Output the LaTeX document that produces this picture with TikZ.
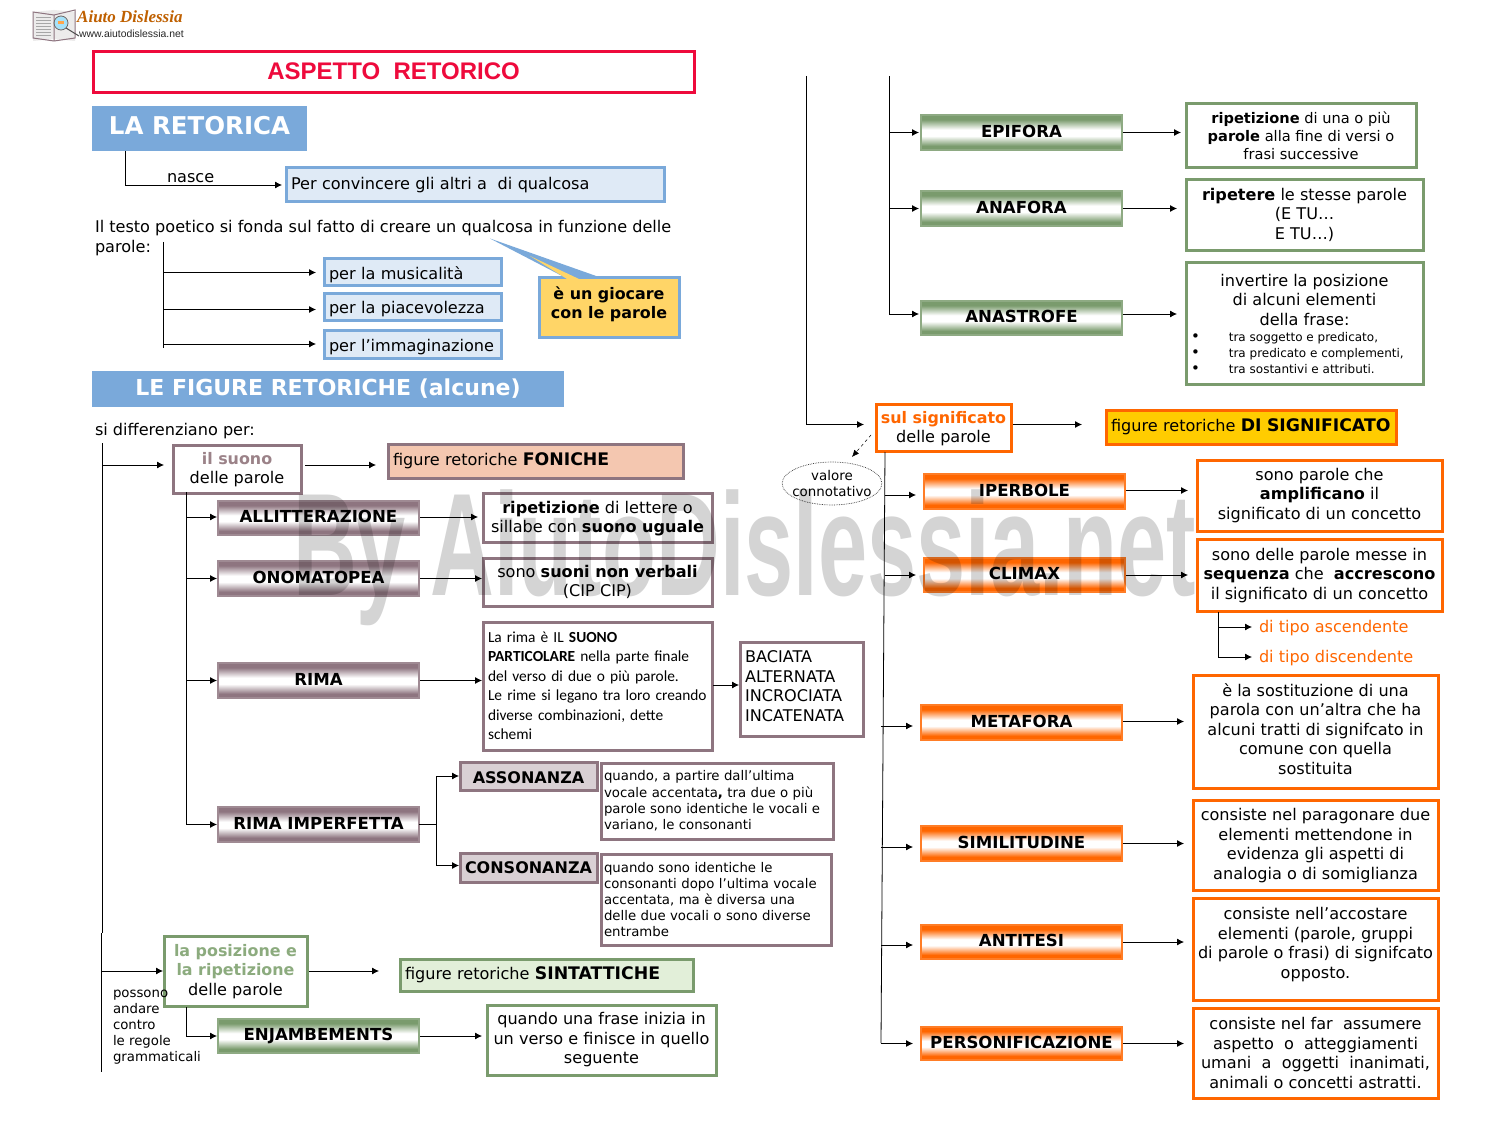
\documentclass[tikz,border=0pt]{standalone}
\usepackage{fontspec}
\setmainfont{DejaVu Sans}
\newfontfamily\arialf{Liberation Sans}
\newfontfamily\calif{Carlito}
\newfontfamily\logof{Liberation Serif}
\usetikzlibrary{arrows.meta,calc,shapes.geometric}
\definecolor{rossot}{HTML}{EE0A3C}
\definecolor{azz}{HTML}{7AA9DA}
\definecolor{azzc}{HTML}{DFEAF6}
\definecolor{giallo}{HTML}{FFD567}
\definecolor{mauve}{HTML}{8E7580}
\definecolor{mauvet}{HTML}{9B8288}
\definecolor{mauvec}{HTML}{D9D0D4}
\definecolor{pesca}{HTML}{F4C7B0}
\definecolor{verde}{HTML}{7A9B6D}
\definecolor{verdet}{HTML}{8CAB7E}
\definecolor{verdec}{HTML}{E2EFD9}
\definecolor{arancio}{HTML}{FF6600}
\definecolor{oro}{HTML}{FFCC00}
\newcommand{\bodyfont}{\fontsize{16.1}{19.5}\selectfont}
\newcommand{\headfont}{\fontsize{15.9}{19.5}\selectfont\bfseries}
\newcommand{\gradfont}{\fontsize{16.6}{19.5}\selectfont\bfseries}
\newcommand{\tbb}[1]{{\fontsize{17.3}{19.5}\selectfont\bfseries #1}}
\newcommand{\rb}[2]{\raisebox{#1}[\height][\depth]{#2}}
\newcommand{\sh}[2]{\rb{#1}{\begin{tabular}{@{}c@{}}#2\end{tabular}}}
\newcommand{\shl}[2]{\rb{#1}{\begin{tabular}{@{}l@{}}#2\end{tabular}}}
\newcommand{\defgrad}[1]{\pgfdeclareverticalshading{grad#1}{100bp}{color(0bp)=(#1); color(25bp)=(#1); color(31bp)=(#1); color(45bp)=(white); color(54bp)=(white); color(68.5bp)=(#1); color(75bp)=(#1); color(100bp)=(#1)}}
\defgrad{mauve}\defgrad{verde}\defgrad{arancio}
\tikzset{
  arr/.style={draw=black,line width=.8pt,-{Latex[length=7pt,width=7pt]}},
  plain/.style={draw=black,line width=.8pt},
  base/.style={inner sep=0pt,outer sep=0pt,font=\bodyfont},
  sbox/.style={draw=#1,line width=3pt,fill=white},
  gbox/.style={draw=#1!85,line width=2pt,shade,shading=grad#1,font=\gradfont},
  lab/.style={inner sep=0pt,outer sep=0pt,anchor=west,font=\bodyfont,align=left},
}
\newcommand{\bxc}[7][]{%
  \pgfmathsetmacro{\cxx}{(#3+#5)/2}\pgfmathsetmacro{\cyy}{(#4+#6)/2}%
  \pgfmathsetmacro{\www}{#5-#3-2}\pgfmathsetmacro{\hhh}{#6-#4-2}%
  \node[base,align=center,minimum width=\www pt,minimum height=\hhh pt,#1] (#2) at (\cxx,\cyy) {#7};}
\newcommand{\bxl}[7][]{%
  \pgfmathsetmacro{\cxx}{(#3+#5)/2}\pgfmathsetmacro{\cyy}{(#4+#6)/2}%
  \pgfmathsetmacro{\www}{#5-#3-2}\pgfmathsetmacro{\hhh}{#6-#4-2}\pgfmathsetmacro{\ttt}{#5-#3-12}%
  \node[base,align=left,inner xsep=5pt,text width=\ttt pt,minimum width=\www pt,minimum height=\hhh pt,#1] (#2) at (\cxx,\cyy) {#7};}
\newcommand{\hconn}[5][0]{\draw[arr,shorten <=#4pt,shorten >=#5pt] ($(#2.east)+(0,#1)$) -- ($(#2.east -| #3.west)+(0,#1)$);}
\newcommand{\bconn}[4][0]{\draw[arr,shorten >=#4pt] ($(#2 |- #3.west)+(0,#1)$) -- ($(#3.west)+(0,#1)$);}
\begin{document}
\begin{tikzpicture}[x=1pt,y=-1pt]
\useasboundingbox (0,0) rectangle (1489,1123);
\fill[white] (0,0) rectangle (1489,1123);
% logo
\fill[red!5!black!8] (33,12) -- (54,10) -- (75,12) -- (75,41) -- (54,39) -- (33,41) -- cycle;
\draw[mauve,line width=1pt] (33,12) -- (54,15) -- (75,10) -- (75,38) -- (54,41) -- (33,38) -- cycle (54,15) -- (54,41);
\foreach \yy in {17,20,23,26,29,32,35}{\draw[black!35,line width=.7pt] (36,\yy) -- (51,\yy);}
\fill[cyan!35] (61,23) circle (6.5);
\fill[orange!70] (58,21) rectangle (64,24);
\draw[black!60,line width=.8pt] (61,23) circle (7);
\draw[black!70,line width=1pt] (66,28) -- (79,36);
\node[inner sep=0pt,anchor=west,font=\logof\bfseries\itshape\fontsize{17}{17}\selectfont,text=orange!75!black] (logoa) at (77,17) {Aiuto Dislessia};
\node[inner sep=0pt,anchor=west,font=\arialf\fontsize{10.4}{12}\selectfont,text=black!85] (logob) at (79,34) {www.aiutodislessia.net};
% left top
\bxc[draw=rossot,line width=3pt]{titolo}{92}{51}{695}{94}{\rb{1.5pt}{\arialf\bfseries\fontsize{24}{28}\selectfont\textcolor{rossot}{ASPETTO\ \ RETORICO}}}
\bxc[fill=azz,text=white,font=\fontsize{24.5}{28}\selectfont\bfseries]{retorica}{91}{105}{308}{152}{\rb{3pt}{LA RETORICA}}
\bxl[sbox=azz,fill=azzc]{conv}{285}{167}{665}{203}{Per convincere gli altri a\ \ di qualcosa}
\draw[arr,shorten >=4pt] ($(retorica.south west)+(33,0)$) |- (conv.west);
\node[lab] (nasce) at (167,178) {nasce};
\node[lab,anchor=north west] (testo) at (95,220) {Il testo poetico si fonda sul fatto di creare un qualcosa in funzione delle\\[.5pt]parole:};
\coordinate (p1) at (163,242);
\coordinate (p2) at (163,348);
\draw[plain] (p1) -- (p2);
\bxl[sbox=azz,fill=azzc]{mus}{323}{258}{502}{287}{\rb{-2pt}{per la musicalità}}
\bxl[sbox=azz,fill=azzc]{piac}{323}{293}{502}{322}{\rb{-2pt}{per la piacevolezza}}
\bxl[sbox=azz,fill=azzc]{imm}{323}{330}{502}{360}{\rb{-2pt}{per l’immaginazione}}
\bconn[0]{p1}{mus}{8}
\bconn[2]{p1}{piac}{8}
\bconn[-1]{p1}{imm}{8}
\bxc[sbox=azz,fill=giallo,font=\headfont]{gioca}{538}{277}{680}{339}{\sh{3pt}{è un giocare\\con le parole}}
\coordinate (ptip) at (490,238.5);
\fill[azz] (ptip) -- (599,277) -- (564,277) -- cycle;
\fill[giallo] (530,256) -- (579,279) -- (567,279) -- cycle;
\bxc[fill=azz,text=white,font=\fontsize{22}{26}\selectfont\bfseries]{figure}{91}{370}{565}{408}{LE FIGURE RETORICHE (alcune)}
\node[lab] (sidiff) at (95,431) {si differenziano per:};
% left tree
\coordinate (t1) at (102,443);
\coordinate (t1m) at (102,933);
\coordinate (t1b) at (101,1072);
\draw[plain] (t1) -- (t1m);
\draw[plain] ($(t1m -| t1b)$) -- (t1b);
\bxc[sbox=mauve]{suono}{172}{444}{302}{494}{\sh{-1pt}{{\headfont\textcolor{mauvet}{il suono}}\\delle parole}}
\bconn[-4]{t1}{suono}{9}
\bxl[sbox=mauve,fill=pesca]{fon}{387}{443}{684}{479}{figure retoriche \tbb{FONICHE}}
\hconn[-4]{suono}{fon}{4}{12}
\coordinate (t2) at (186,492);
\coordinate (t2b) at (186,824);
\draw[plain] (t2) -- (t2b);
\bxc[gbox=mauve]{allit}{217}{500}{420}{536}{\rb{1.5pt}{ALLITTERAZIONE}}
\bxc[gbox=mauve]{onom}{217}{560}{420}{597}{\rb{1.5pt}{ONOMATOPEA}}
\bxc[gbox=mauve]{rima}{217}{662}{420}{699}{\rb{1.5pt}{RIMA}}
\bxc[gbox=mauve]{rimp}{217}{806}{420}{843}{\rb{1.5pt}{RIMA IMPERFETTA}}
\bconn[-1]{t2}{allit}{1}
\bconn[0]{t2}{onom}{1}
\bconn[0]{t2}{rima}{1}
\bconn[0]{t2}{rimp}{1}
\bxc[sbox=mauve]{dallit}{482}{492}{713}{543}{\sh{-1.5pt}{\textbf{ripetizione} di lettere o\\sillabe con \textbf{suono uguale}}}
\bxc[sbox=mauve]{donom}{482}{557}{713}{607}{\sh{-1pt}{sono \textbf{suoni non verbali}\\(CIP CIP)}}
\bxl[sbox=mauve,font=\calif\fontsize{15.4}{19.5}\selectfont]{drima}{482}{621}{713}{751}{La rima è IL \textbf{SUONO}\\\textbf{PARTICOLARE} nella parte finale\\del verso di due o più parole.\\Le rime si legano tra loro creando\\diverse combinazioni, dette\\schemi}
\bxl[sbox=mauve]{bac}{739}{641}{864}{737}{\shl{1pt}{BACIATA\\ALTERNATA\\INCROCIATA\\INCATENATA}}
\hconn[-1]{allit}{dallit}{1}{5}
\hconn[0]{onom}{donom}{1}{1}
\hconn[0]{rima}{drima}{1}{1}
\hconn[-1]{drima}{bac}{1}{1}
\bxc[sbox=mauve,fill=mauvec,font=\fontsize{16}{19.5}\selectfont\bfseries]{ass}{459}{761}{598}{791}{\rb{-2pt}{ASSONANZA}}
\bxc[sbox=mauve,fill=mauvec,font=\fontsize{16}{19.5}\selectfont\bfseries]{cons}{459}{852}{598}{883}{CONSONANZA}
\coordinate (fork) at (436,824.5);
\draw[plain] (rimp.east) -- (fork);
\draw[arr,shorten >=1pt] (fork) |- (ass.west);
\draw[arr,shorten >=1pt] (fork) |- ($(cons.west)+(0,-2)$);
\bxl[sbox=mauve,inner xsep=3pt,text width=226pt,font=\fontsize{13.3}{16.2}\selectfont]{dass}{600}{762}{834}{840}{quando, a partire dall’ultima\\vocale accentata\textbf{,} tra due o più\\parole sono identiche le vocali e\\variano, le consonanti}
\bxl[sbox=mauve,inner xsep=3pt,text width=224pt,font=\fontsize{13.3}{16.2}\selectfont]{dcons}{600}{853}{832}{946}{quando sono identiche le\\consonanti dopo l’ultima vocale\\accentata, ma è diversa una\\delle due vocali o sono diverse\\entrambe}
\bxc[sbox=verde]{pos}{163}{935}{308}{1007}{\sh{-1pt}{{\headfont\textcolor{verdet}{la posizione e}}\\{\headfont\textcolor{verdet}{la ripetizione}}\\delle parole}}
\bconn[0]{t1b}{pos}{1}
\bxl[sbox=verde,fill=verdec]{sint}{399}{958}{694}{992}{figure retoriche \tbb{SINTATTICHE}}
\draw[arr,shorten <=2pt,shorten >=21pt] (pos.east) -- (pos.east -| sint.west);
\bxc[gbox=verde]{enj}{217}{1018}{420}{1054}{ENJAMBEMENTS}
\coordinate (t3) at (186,1007);
\draw[arr,shorten >=1pt] (t3) |- (enj.west);
\bxc[sbox=verde]{denj}{486}{1004}{717}{1076}{\sh{-.5pt}{quando una frase inizia in\\un verso e finisce in quello\\seguente}}
\hconn[0]{enj}{denj}{1}{5}
\node[lab,font=\fontsize{13.3}{16}\selectfont,anchor=north west] (possono) at (113,990) {possono\\andare\\contro\\le regole\\grammaticali};
% right top
\coordinate (r1) at (806,76);
\coordinate (r2) at (889,76);
\bxc[gbox=verde]{epi}{920}{114}{1123}{151}{\rb{1.5pt}{EPIFORA}}
\bxc[gbox=verde]{anaf}{920}{190}{1123}{227}{\rb{1.5pt}{ANAFORA}}
\bxc[gbox=verde]{anas}{920}{300}{1123}{336}{\rb{1.5pt}{ANASTROFE}}
\draw[plain] (r2) -- ($(r2 |- anas.west)+(0,-4)$);
\bconn[0]{r2}{epi}{2}
\bconn[0]{r2}{anaf}{2}
\bconn[-4]{r2}{anas}{2}
\bxc[sbox=verde,font=\fontsize{14.6}{18}\selectfont]{depi}{1185}{103}{1417}{169}{\textbf{ripetizione} di una o più\\\textbf{parole} alla fine di versi o\\frasi successive}
\bxc[sbox=verde]{danaf}{1185}{179}{1424}{252}{\sh{-.5pt}{\textbf{ripetere} le stesse parole\\(E TU…\\E TU…)}}
\bxc[sbox=verde]{danas}{1185}{262}{1424}{385}{invertire la posizione\\di alcuni elementi\\della frase:\\[-3.5pt]
\makebox[227pt][l]{\fontsize{12}{16}\selectfont {\fontsize{15}{16}\selectfont •}\hspace{29pt}tra soggetto e predicato,}\\[-3.5pt]
\makebox[227pt][l]{\fontsize{12}{16}\selectfont {\fontsize{15}{16}\selectfont •}\hspace{29pt}tra predicato e complementi,}\\[-3.5pt]
\makebox[227pt][l]{\fontsize{12}{16}\selectfont {\fontsize{15}{16}\selectfont •}\hspace{29pt}tra sostantivi e attributi.}}
\hconn[0]{epi}{depi}{1}{5}
\hconn[0]{anaf}{danaf}{1}{9}
\hconn[-4]{anas}{danas}{1}{9}
% significato
\bxc[sbox=arancio]{sul}{875}{403}{1012}{452}{\sh{-1.5pt}{{\headfont\textcolor{arancio}{sul significato}}\\delle parole}}
\draw[plain] (r1) -- ($(r1 |- sul.west)+(0,-3)$);
\bconn[-3]{r1}{sul}{12}
\bxl[sbox=arancio,fill=oro]{dsig}{1105}{409}{1397}{445}{figure retoriche \tbb{DI SIGNIFICATO}}
\hconn[-3]{sul}{dsig}{2}{24}
\node[ellipse,draw=black!80,densely dotted,line width=.7pt,inner xsep=-4.4pt,inner ysep=2pt,outer sep=0pt,align=center,font=\fontsize{13.4}{16}\selectfont] (val) at (832,483.5) {valore\\connotativo};
\draw[arr,dashed,line width=.5pt,-{Latex[length=7pt,width=6pt]}] ($(sul.south west)+(-5,-16)$) -- ($(sul.south west)+(-24,6)$);
\coordinate (tr) at (885,452);
\coordinate (trb) at (881,1043);
\draw[plain] (tr) -- (trb);
\bxc[gbox=arancio]{iper}{923}{473}{1126}{510}{\rb{1.5pt}{IPERBOLE}}
\bxc[gbox=arancio]{clim}{923}{557}{1126}{593}{\rb{1.5pt}{CLIMAX}}
\bxc[gbox=arancio]{meta}{920}{704}{1123}{741}{\rb{1.5pt}{METAFORA}}
\bxc[gbox=arancio]{simi}{920}{825}{1123}{862}{\rb{1.5pt}{SIMILITUDINE}}
\bxc[gbox=arancio]{anti}{920}{924}{1123}{960}{\rb{1.5pt}{ANTITESI}}
\bxc[gbox=arancio]{pers}{920}{1026}{1123}{1061}{\rb{1.5pt}{PERSONIFICAZIONE}}
\bconn[3.5]{tr}{iper}{8}
\bconn[0]{tr}{clim}{8}
\bconn[3.5]{trb}{meta}{8}
\bconn[3.5]{trb}{simi}{8}
\bconn[3]{trb}{anti}{8}
\bconn[0]{trb}{pers}{8}
\bxc[sbox=arancio]{diper}{1196}{459}{1443}{532}{\sh{-.5pt}{sono parole che\\\textbf{amplificano} il\\significato di un concetto}}
\bxc[sbox=arancio]{dclim}{1196}{538}{1443}{612}{\sh{-1pt}{sono delle parole messe in\\\textbf{sequenza} che\ \ \textbf{accrescono}\\il significato di un concetto}}
\bxc[sbox=arancio]{dmeta}{1192}{674}{1439}{789}{\sh{0pt}{è la sostituzione di una\\parola con un’altra che ha\\alcuni tratti di signifcato in\\comune con quella\\sostituita}}
\bxc[sbox=arancio]{dsimi}{1192}{799}{1439}{891}{\sh{-1pt}{consiste nel paragonare due\\elementi mettendone in\\evidenza gli aspetti di\\analogia o di somiglianza}}
\bxc[sbox=arancio]{danti}{1192}{897}{1439}{1001}{\sh{4pt}{consiste nell’accostare\\elementi (parole, gruppi\\di parole o frasi) di signifcato\\opposto.}}
\bxc[sbox=arancio]{dpers}{1192}{1007}{1439}{1099}{consiste nel far\ \ assumere\\aspetto\ \ o\ \ atteggiamenti\\umani\ \ a\ \ oggetti\ \ inanimati,\\animali o concetti astratti.}
\hconn[-1]{iper}{diper}{1}{9}
\hconn[0]{clim}{dclim}{1}{9}
\hconn[-1]{meta}{dmeta}{1}{9}
\hconn[0]{simi}{dsimi}{1}{9}
\hconn[0]{anti}{danti}{1}{9}
\hconn[0]{pers}{dpers}{1}{9}
\coordinate (c1) at (1218,612);
\node[lab,text=arancio] (asc) at (1259,628) {di tipo ascendente};
\node[lab,text=arancio] (disc) at (1259,658) {di tipo discendente};
\draw[arr,shorten >=7pt] (c1) |- ($(asc.west)+(0,-1)$);
\draw[arr,shorten >=7pt] (c1) |- ($(disc.west)+(0,-1)$);
% watermark
\begin{scope}[blend mode=multiply]
\node[inner sep=0pt,anchor=base west,text=black!17,font=\arialf\bfseries\fontsize{146}{146}\selectfont] (wm) at (293,595) {\scalebox{.605}[1]{By AiutoDislessia.net}};
\end{scope}
\end{tikzpicture}
\end{document}
